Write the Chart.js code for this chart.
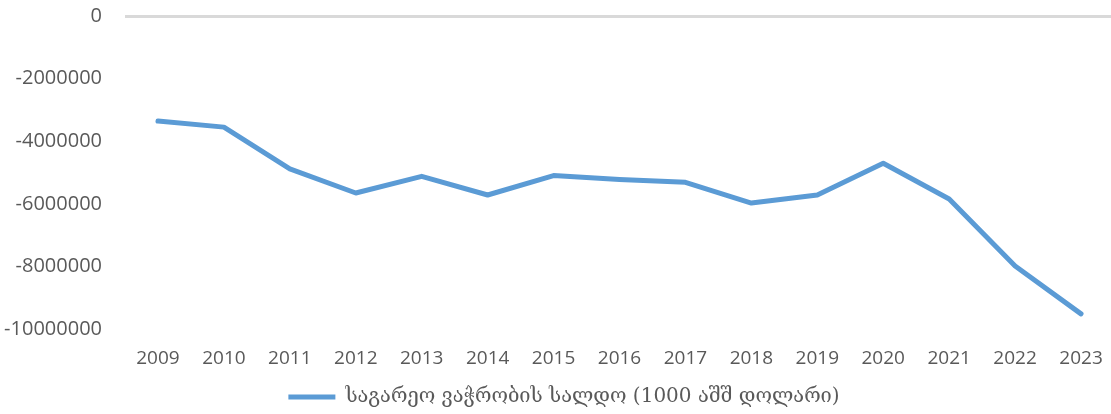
<!DOCTYPE html>
<html>
<head>
<meta charset="utf-8">
<script src="https://cdn.jsdelivr.net/npm/chart.js@4.4.1/dist/chart.umd.min.js"></script>
<style>
  html, body { margin: 0; padding: 0; background: #ffffff; overflow: hidden; }
  #wrap { width: 1114px; height: 414px; position: relative; }
</style>
</head>
<body>
<div id="wrap"><canvas id="c"></canvas></div>
<script>
const categories = ["2009","2010","2011","2012","2013","2014","2015","2016","2017","2018","2019","2020","2021","2022","2023"];
const balance = [-3356000,-3548000,-4881000,-5651000,-5119000,-5715000,-5096000,-5224000,-5311000,-5971000,-5715000,-4702000,-5843000,-7981000,-9510000];
const seriesLabel = "საგარეო ვაჭრობის სალდო (1000 აშშ დოლარი)";
const yMin = -10000000, yMax = 0, yStep = 2000000;

const legendShift = {
  id: 'legendShift',
  afterLayout(chart) {
    const lg = chart.legend;
    if (!lg) return;
    lg.left += 7; lg.right += 7;
    lg.top += 3; lg.bottom += 3;
  }
};

new Chart(document.getElementById('c'), {
  type: 'line',
  data: {
    labels: categories,
    datasets: [{
      label: seriesLabel,
      data: balance,
      borderColor: '#5b9bd5',
      backgroundColor: '#5b9bd5',
      borderWidth: 5,
      borderCapStyle: 'round',
      borderJoinStyle: 'round',
      pointRadius: 0,
      pointHoverRadius: 0,
      tension: 0,
      fill: false
    }]
  },
  plugins: [legendShift],
  options: {
    responsive: true,
    maintainAspectRatio: false,
    animation: false,
    layout: { padding: { top: 16, right: 0, left: 0, bottom: 0 } },
    plugins: {
      tooltip: { enabled: false },
      legend: {
        position: 'bottom',
        labels: {
          usePointStyle: true,
          pointStyle: 'line',
          pointStyleWidth: 47,
          color: '#595959',
          padding: 4,
          font: { family: "'DejaVu Serif', 'DejaVu Sans'", size: 20 }
        }
      }
    },
    scales: {
      x: {
        offset: true,
        grid: { display: false },
        border: { display: false },
        ticks: {
          color: '#595959',
          padding: 10,
          maxRotation: 0,
          font: { family: "'Open Sans'", size: 19 }
        }
      },
      y: {
        min: yMin,
        max: yMax,
        afterFit: (s) => { s.width = 125; s.paddingTop = 0; s.paddingBottom = 0; },
        grid: {
          drawTicks: false,
          color: (ctx) => ctx.tick && ctx.tick.value === 0 ? '#d9d9d9' : 'rgba(0,0,0,0)',
          lineWidth: 3
        },
        border: { display: false },
        ticks: {
          stepSize: yStep,
          color: '#595959',
          padding: 23,
          font: { family: "'Open Sans'", size: 20 },
          callback: (v) => String(v)
        }
      }
    }
  }
});
</script>
</body>
</html>
